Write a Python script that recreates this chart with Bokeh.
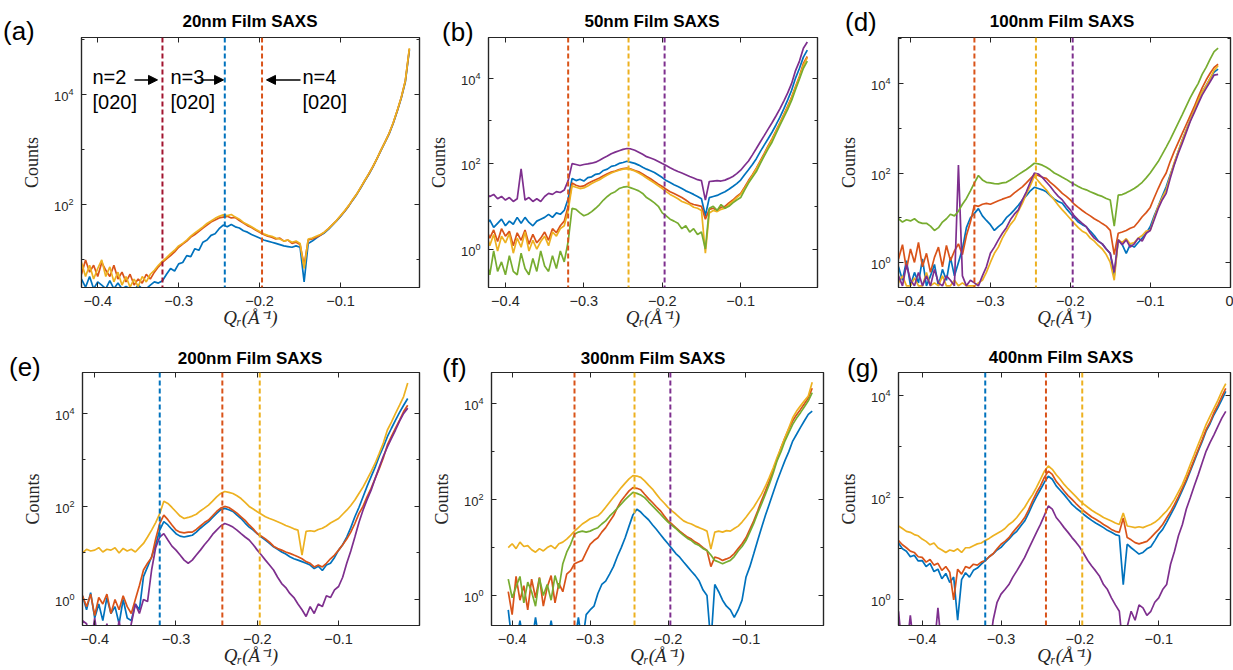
import numpy as np
from bokeh.plotting import figure
from bokeh.layouts import row, column
from bokeh.models import (Range1d, FixedTicker, LinearAxis, LogAxis, Span, Label,
                          Arrow, NormalHead, Div)
from bokeh.embed import file_html
from bokeh.resources import INLINE

nan = float("nan")

# ---------------- data (Q_r in 1/Angstrom, counts) -------------
qr = [-0.430, -0.425, -0.420, -0.415, -0.410, -0.405, -0.400, -0.395, -0.390, -0.385,
      -0.380, -0.375, -0.370, -0.365, -0.360, -0.355, -0.350, -0.345, -0.340, -0.335,
      -0.330, -0.325, -0.320, -0.315, -0.310, -0.305, -0.300, -0.295, -0.290, -0.285,
      -0.280, -0.275, -0.270, -0.265, -0.260, -0.255, -0.250, -0.245, -0.240, -0.235,
      -0.230, -0.225, -0.220, -0.215, -0.210, -0.205, -0.200, -0.195, -0.190, -0.185,
      -0.180, -0.175, -0.170, -0.165, -0.160, -0.155, -0.150, -0.145, -0.140, -0.135,
      -0.130, -0.125, -0.120, -0.115, -0.110, -0.105, -0.100, -0.095, -0.090, -0.085,
      -0.080, -0.075, -0.070, -0.065, -0.060, -0.055, -0.050, -0.045, -0.040, -0.035,
      -0.030, -0.025, -0.020, -0.015]

# (a) 20nm
a_blue = [4, 3, 4.5, 3.2, 5, 3, 4, 3.5, 3, 4.2,
          3, 3.8, 3, 3.3, 3, 2.8, 3.5, 3, 3, 3.5,
          4, 3.8, 4.2, 5.5, 7, 6.3, 8.5, 9, 12, 11.5,
          16, 15, 21, 23, 28, 30, 37, 43, 40, 44,
          40, 38, 34, 32, 29, 27, 25, 23, 22, 21,
          20, 19, 18, 17.5, 17, 18, 17, 4, 20, 22,
          25, 28, 31, 36, 43, 51, 62, 76, 95, 122,
          155, 205, 275, 360, 490, 690, 980, 1380, 1950, 3000,
          5000, 8700, 17000, 65000]
a_orange = [7, 9, 5.5, 10, 6, 8, 5, 9, 6.5, 5,
            8, 4.5, 6, 4, 5.5, 3.5, 4.5, 3.8, 5.5, 4.5,
            6, 7.5, 9, 10.5, 12, 14, 17, 19.5, 22, 26,
            29, 33, 38, 43, 49, 53, 58, 60, 62, 58,
            59, 52, 47, 42, 39, 35, 32, 29, 27, 26,
            24, 25, 22, 23, 20, 21, 19, 8, 23, 24,
            26, 28, 32, 37, 44, 52, 63, 77, 96, 124,
            157, 208, 278, 368, 498, 695, 995, 1390, 1990, 3080,
            5150, 8900, 18000, 68000]
a_yellow = [8, 6, 9, 5, 8, 4.5, 7, 10, 5, 7.5,
            4, 6, 3.5, 5, 3.2, 4.5, 3.3, 5, 4, 5.5,
            6.5, 8, 9.5, 11, 13, 15, 18, 20, 23, 27,
            31, 35, 40, 46, 51, 57, 62, 66, 64, 67,
            60, 55, 48, 44, 40, 36, 33, 30, 28, 27,
            25, 24, 22, 23, 21, 22, 20, 7, 24, 25,
            27, 29, 32, 37, 44, 52, 64, 78, 97, 125,
            158, 210, 280, 370, 500, 700, 1000, 1400, 2000, 3100,
            5200, 9000, 18000, 70000]

# (b) 50nm
b_blue = [4.5, 3.5, 4.8, 3.2, 4, 5, 3.5, 4.5, 3.8, 5.5,
          4, 5.5, 4.2, 3.5, 4.5, 5, 5.5, 6.5, 5.5, 7,
          6.5, 8, 15, 45, 40, 43, 39, 47, 49, 56,
          58, 69, 74, 86, 90, 101, 106, 113, 107, 101,
          92, 82, 74, 68, 62, 54, 47, 40, 36, 32,
          29, 26, 23, 21, 19, 17, 15, 6, 16, 17,
          18, 20, 22, 25, 29, 34, 41, 55, 72, 95,
          130, 190, 270, 380, 540, 800, 1200, 1900, 3100, 5200,
          10000, 17000, 31000, 45000]
b_orange = [2.5, 3.2, 1.8, 2.8, 1.5, 3, 2, 2.6, 1.2, 2.4,
            1.6, 2.8, 1.3, 2.2, 1.4, 1.8, 2.5, 1.6, 3, 2.4,
            3.5, 4.5, 10, 35, 31, 29, 30, 34, 38, 42,
            46, 52, 58, 63, 67, 72, 76, 78, 74, 69,
            64, 57, 50, 44, 38, 33, 29, 25, 22, 20,
            18, 16, 14, 12, 11, 10.5, 10, 5, 8.5, 9,
            8, 9.5, 10, 12, 14, 17, 20, 28, 40, 55,
            78, 115, 170, 260, 380, 580, 900, 1400, 2200, 3600,
            6300, 11000, 22000, 32000]
b_yellow = [1.8, 2.5, 1.2, 2.2, 0.9, 2, 1.4, 2.3, 0.8, 1.8,
            1.1, 2.5, 0.9, 1.6, 1, 1.5, 2, 1.2, 2.5, 2,
            3, 3.5, 8, 30, 28, 26, 27, 30, 34, 38,
            42, 48, 54, 60, 65, 70, 74, 76, 72, 67,
            60, 53, 46, 40, 35, 30, 26, 22, 19, 17,
            15, 13, 12, 11, 9.5, 9, 8, 0.8, 7, 8,
            7.5, 8.5, 9, 11, 13, 16, 19, 26, 37, 52,
            75, 110, 160, 245, 360, 560, 860, 1350, 2100, 3400,
            6000, 10500, 20000, 30000]
b_purple = [18, 20, 17, 19, 15, 17, 14, 16, 13, 15,
            75, 14, 16, 13, 15, 13, 17, 20, 19, 22,
            21, 24, 40, 100, 95, 90, 95, 98, 102, 108,
            120, 135, 150, 170, 185, 200, 215, 225, 220, 205,
            185, 165, 145, 135, 125, 112, 100, 90, 80, 72,
            65, 60, 55, 50, 46, 42, 40, 14, 38, 39,
            40, 39, 41, 45, 50, 58, 70, 90, 115, 160,
            225, 320, 450, 640, 900, 1300, 1900, 2900, 4500, 7500,
            15000, 25000, 50000, 70000]
b_green = [0.3, 0.6, 0.25, 0.9, 0.3, 0.5, 0.25, 0.7, 0.3, 0.25,
           0.8, 0.35, 0.25, 0.6, 0.3, 0.9, 0.4, 0.3, 0.7, 0.35,
           0.9, 0.5, 1.5, 9, 8.5, 7, 6, 6.5, 7.5, 9,
           11, 14, 17, 20, 22, 26, 28, 29, 27, 25,
           23, 20, 16, 14, 12, 10, 7, 6, 5, 4.5,
           4, 3, 3.5, 2.5, 3, 2.2, 2.5, 1, 9, 10,
           8, 11, 9, 10, 12, 14, 16, 24, 35, 48,
           65, 100, 150, 220, 316, 500, 780, 1200, 1850, 3000,
           5400, 9500, 17000, 25000]

# (d) 100nm
d_blue = [0.5, 1.2, 0.3, 0.8, 0.4, 1.1, 0.3, 0.6, 0.35, 1.2,
          0.3, 0.5, 0.9, 0.3, 0.7, 0.4, 1.3, 0.5, 1, 2,
          6, 10, 12.5, 16, 11, 8.7, 7, 5.2, 6.3, 7.5,
          10, 12, 15, 19, 25, 31, 40, 48, 45, 42,
          38, 31, 26, 23, 21, 16, 12.6, 10, 8, 7,
          6.3, 5, 4, 3, 2.6, 2, 1.6, 0.5, 3.2, 2.5,
          1.6, 2.5, 2.2, 2.8, 3.5, 4.5, 6.3, 11, 18, 30,
          49, 90, 160, 300, 540, 900, 1500, 2500, 4200, 6500,
          9000, 13000, 18000, 21000]
d_orange = [3, 1.5, 3.5, 1.2, 2.5, 0.7, 2, 1, 2.8, 0.8,
            1.6, 0.6, 1.3, 2.2, 0.8, 2.4, 1.1, 1.8, 2.6, 1.5,
            4, 8, 19, 18, 20, 21, 20, 22, 24, 26,
            28, 30, 36, 42, 49, 60, 75, 92, 88, 80,
            76, 62, 52, 43, 35, 30, 25, 20, 17, 14.5,
            12.5, 11, 9.5, 8.5, 7.4, 6.5, 5.2, 1.5, 4.5, 4.8,
            5.2, 5.8, 6.3, 8, 10.5, 13, 17, 28, 45, 70,
            100, 180, 300, 480, 760, 1200, 1900, 3000, 5000, 8000,
            12000, 17000, 23000, 27000]
d_yellow = [0.3, 0.4, 0.3, 0.35, 0.5, 0.3, 0.3, 0.45, 0.3, 0.3,
            0.6, 0.3, 0.35, 0.3, 0.5, 0.3, 0.3, 0.4, 0.3, 0.35,
            0.3, 0.3, 0.3, 0.35, 0.4, 0.6, 1, 1.6, 2.2, 3.5,
            5, 7, 9, 14, 21, 34, 52, 85, 66, 52,
            42, 32, 25, 19, 15, 12, 9.5, 7.5, 6, 5,
            4.5, 3.5, 3, 2.4, 2, 1.5, 1, 0.4, 3.2, 2.8,
            3.4, 2.6, 2.8, 3.5, 4, 5, 5.2, 10, 18, 28,
            42, 85, 170, 300, 540, 900, 1500, 2500, 4200, 6500,
            9000, 13000, 20000, 25000]
d_purple = [0.35, 0.8, 0.3, 0.5, 0.3, 0.9, 0.4, 0.3, 0.6, 0.3,
            0.5, 0.3, 0.7, 0.35, 0.3, 0.5, 0.4, 0.3, 150, 0.5,
            0.3, 0.4, 0.35, 0.3, 0.5, 0.8, 1.6, 2.2, 3.2, 4.5,
            6, 9, 12, 15, 25, 38, 63, 100, 95, 80,
            63, 50, 38, 30, 25, 19, 15, 11, 9, 7.5,
            6.3, 4.5, 3.5, 3, 2.6, 2, 1.6, 0.6, 3.2, 2.5,
            3.2, 2.2, 2.6, 3.5, 3, 4.5, 5.2, 9, 16, 25,
            35, 75, 150, 270, 460, 800, 1400, 2200, 3500, 5500,
            7800, 11000, 15500, 16000]
d_green = [9, 8.5, 9, 9.5, 8, 9, 8.5, 9.5, 8, 7.5,
           7.5, 6.5, 5.2, 6, 8, 9.5, 12, 11, 14, 20,
           27, 40, 60, 88, 70, 62, 60, 58, 57, 60,
           62, 70, 80, 92, 105, 120, 140, 165, 160, 150,
           135, 118, 100, 90, 80, 72, 63, 56, 50, 45,
           42, 38, 35, 32, 30, 27, 25, 6.5, 32, 33,
           36, 40, 45, 52, 62, 78, 100, 135, 180, 260,
           380, 560, 850, 1300, 2000, 3100, 4800, 7000, 10000, 16000,
           23000, 35000, 52000, 62000]

# (e) 200nm
e_blue = [0.5, 0.9, 0.35, 1.2, 0.6, 1.4, 0.4, 0.8, 0.35, 1.1,
          0.5, 0.7, 0.3, 1, 0.4, 0.35, 0.8, 0.6, 3.1, 5,
          8.3, 15, 31, 47, 40, 32, 26, 23, 22, 23,
          24, 28, 34, 40, 47, 58, 71, 85, 91, 85,
          78, 65, 55, 44, 36, 31, 26, 22, 19, 16,
          13.5, 12, 10.5, 9.5, 8.3, 7.5, 7, 6.5, 6, 5.5,
          4.6, 5.2, 4.2, 5.5, 6, 8, 11.5, 15, 22, 35,
          60, 95, 160, 270, 436, 700, 1200, 1900, 3160, 4800,
          7200, 10500, 15000, 21000]
e_orange = [0.8, 1.4, 0.5, 1.2, 0.7, 1.3, 0.45, 1.1, 0.8, 1.3,
            0.5, 1, 0.6, 1.2, 0.7, 0.5, 1, 2, 4.3, 6,
            8, 20, 43, 65, 52, 40, 31, 28, 27, 28,
            28, 32, 38, 45, 51, 63, 78, 92, 100, 95,
            83, 72, 60, 50, 40, 33, 26, 23, 20, 17,
            14, 12.5, 11.5, 10.5, 9.8, 9, 8.3, 7.5, 6.5, 6,
            5, 5.5, 5, 6, 7.5, 9, 11.5, 15, 20, 28,
            43, 70, 100, 160, 245, 400, 650, 1100, 2100, 3200,
            4800, 7200, 11000, 15000]
e_yellow = [11, 10, 12, 10, 12, 11, 11.5, 13, 10.5, 12,
            11.5, 13, 10, 12.5, 11, 12, 10.5, 13, 16, 22,
            31, 45, 70, 130, 116, 95, 77, 62, 55, 58,
            62, 68, 80, 92, 107, 130, 160, 190, 210, 200,
            190, 170, 148, 122, 100, 88, 77, 68, 60, 55,
            51, 47, 43, 39, 36, 33, 31, 9, 29, 30,
            29, 32, 34, 38, 44, 49, 55, 68, 83, 105,
            138, 190, 260, 380, 560, 850, 1380, 2300, 4400, 6500,
            10000, 15000, 23000, 45000]
e_purple = [0.1, 0.4, 0.1, 0.35, 0.3, 0.1, 0.4, 0.1, 0.1, 0.3,
            0.1, 0.1, 0.35, 0.1, 0.1, 0.3, 0.8, 0.5, 1, 0.9,
            4.3, 13, 22, 26, 19, 14, 11.5, 9, 7, 6,
            7, 9, 11.5, 15, 19, 25, 31, 38, 43, 40,
            36, 31, 26, 22, 19, 15, 11.5, 9, 7, 5.5,
            4.3, 3, 2.2, 1.8, 1.35, 1.1, 0.8, 0.6, 0.43, 0.7,
            0.5, 0.8, 0.7, 1.2, 1.1, 1.6, 1.9, 3, 6, 11,
            22, 45, 83, 140, 224, 400, 700, 1200, 1900, 2900,
            4400, 6800, 10000, 13000]

# (f) 300nm
f_blue = [nan, nan, nan, nan, nan, 0.5, 0.1, 0.1, 0.3, 0.1,
          0.1, 0.1, 0.35, 0.1, 0.1, 0.1, 0.3, 0.1, 0.1, 0.1,
          0.1, 0.1, 0.1, 0.35, 0.1, 0.4, 0.5, 0.6, 1.1, 1.7,
          2, 2.8, 4, 6.5, 10, 16, 28, 48, 63, 55,
          45, 38, 30, 24, 19, 15, 12, 9.5, 7.5, 6.3,
          5, 4, 3.2, 2.6, 2, 1.3, 1, 0.1, 1.7, 1.2,
          0.8, 0.6, 0.5, 0.35, 0.5, 0.8, 2.4, 4, 7.4, 14,
          26, 47, 81, 140, 245, 400, 650, 1000, 1660, 2300,
          3200, 4400, 6000, 7000]
f_orange = [nan, nan, nan, nan, nan, 1.2, 0.4, 2.5, 0.8, 1.6,
            0.5, 2.2, 0.9, 2.4, 0.6, 1.5, 2.6, 0.7, 1.8, 1.2,
            2.8, 3.3, 4.6, 5, 5.4, 8, 11.7, 14, 16, 21,
            26, 35, 46, 68, 95, 120, 152, 178, 172, 160,
            129, 105, 87, 71, 59, 46, 36, 31, 26, 22,
            19, 16.5, 15, 13, 11.7, 10, 8.7, 4, 6.3, 6,
            5.4, 5.8, 6.3, 7.5, 9.5, 12, 16, 24, 36, 58,
            95, 150, 245, 420, 690, 1200, 1950, 3000, 4400, 5900,
            7600, 10000, 13200, 21000]
f_yellow = [nan, nan, nan, nan, nan, 10, 12, 9.5, 13, 10.5,
            11, 9, 8, 9.5, 8.5, 10, 11, 9.5, 12, 13,
            15, 18, 22, 26, 31, 35, 40, 43, 46, 55,
            69, 88, 112, 140, 178, 220, 270, 316, 310, 290,
            245, 200, 166, 130, 103, 85, 69, 58, 50, 42,
            36, 33, 31, 28, 26, 24, 22, 9.3, 21, 22,
            21, 22.5, 22, 25, 28, 34, 43, 55, 70, 95,
            130, 190, 290, 460, 760, 1200, 1950, 3100, 5100, 7000,
            9000, 11500, 14500, 28000]
f_green = [nan, nan, nan, nan, nan, 2.2, 0.9, 1.5, 2.5, 0.7,
           1.9, 1.2, 0.6, 2.3, 1, 1.7, 0.8, 2.6, 1.4, 4.6,
           8, 11.7, 19, 21, 22, 21, 22, 24, 26, 31,
           36, 45, 54, 66, 81, 100, 120, 141, 135, 125,
           110, 90, 74, 61, 50, 41, 34, 29, 25, 21,
           18, 15.5, 14, 12, 11, 9.5, 8.7, 7, 5.4, 5,
           4.6, 5, 5.4, 6.5, 8.5, 10.5, 14, 21, 32, 52,
           81, 130, 210, 360, 650, 1000, 1660, 2500, 3700, 5000,
           6500, 8600, 11500, 17000]

# (g) 400nm
g_blue = [13, 10, 9, 7, 7.5, 5.8, 5.9, 4.5, 5.2, 3.6,
          4, 2.6, 3.3, 2.2, 2.8, 0.4, 2.5, 3.4, 2.8, 3.8,
          4.2, 5, 5.9, 7, 8, 9.5, 10.7, 13, 15.5, 19,
          22, 28, 35, 50, 74, 105, 145, 200, 263, 230,
          170, 140, 115, 92, 74, 63, 55, 47, 41, 36,
          32, 29, 26, 23, 21, 19, 18, 2, 12.3, 10.5,
          9.1, 7.9, 8.5, 10, 11, 14.5, 19.5, 24, 33, 46,
          65, 95, 140, 210, 330, 520, 810, 1250, 2000, 2800,
          4200, 5800, 8300, 12000]
g_orange = [14.5, 12, 10.5, 9, 8.5, 7, 6.8, 5.5, 6.2, 4.8,
            5.2, 3.8, 4.5, 3.5, 1, 4, 3.2, 4.5, 4.2, 5,
            4.8, 5.5, 5.9, 7, 8, 10, 12.3, 14, 16.5, 21,
            26, 32, 41, 58, 87, 125, 170, 250, 331, 285,
            209, 170, 135, 110, 93, 77, 65, 55, 48, 42,
            38, 34, 30, 27, 24, 22, 21, 40, 16.6, 15,
            13.2, 12.5, 13.2, 14, 16.6, 20, 24, 30, 40, 53,
            74, 105, 155, 230, 355, 560, 870, 1350, 2140, 3000,
            4600, 6500, 9500, 13800]
g_yellow = [28, 25, 22, 21, 19, 18, 15.5, 14, 12, 13,
            10.5, 9.5, 8.5, 9.5, 9, 10, 8.5, 10.5, 10.5, 11.5,
            12.5, 13, 14.5, 16, 18, 20, 22, 25, 30, 34,
            41, 52, 65, 88, 115, 160, 229, 330, 417, 360,
            282, 230, 182, 150, 126, 105, 87, 75, 65, 57,
            51, 46, 41, 38, 35, 32, 30, 50, 28, 27,
            26, 27, 26, 28, 30, 33, 38, 46, 55, 70,
            93, 130, 182, 280, 447, 700, 1100, 1700, 2700, 3900,
            5600, 8000, 12000, 17000]
g_purple = [0.6, 0.1, 0.1, 0.5, 0.1, 0.1, 0.1, 0.1, 0.1, 0.1,
            0.7, 0.1, 0.1, 0.1, 0.1, 0.1, 0.1, 0.1, 0.1, 0.1,
            0.1, 0.1, 0.1, 0.1, 0.4, 0.9, 1.3, 1.6, 2, 2.8,
            3.7, 5, 6.8, 10, 14.5, 21, 30, 45, 69, 60,
            41, 33, 26, 21, 16.6, 13.5, 10.7, 8, 5.9, 4.6,
            3.7, 2.9, 2, 1.6, 1.1, 0.8, 0.6, 0.1, 0.3, 0.6,
            0.4, 0.8, 0.7, 0.5, 0.6, 0.9, 1.1, 1.6, 2, 5,
            9, 18, 30, 60, 100, 170, 280, 480, 810, 1200,
            1700, 2500, 3600, 4900]

# guide lines (dashed) at these Q_r values
guide_q = [-0.320, -0.243, -0.197]

x_tick_values = [-0.4, -0.3, -0.2, -0.1, 0.0]
y_major_ticks = [0.01, 1, 100, 10000]
y_minor_ticks = [0.1, 10, 1000, 100000]

panel_titles = ["20nm Film SAXS", "50nm Film SAXS", "100nm Film SAXS",
                "200nm Film SAXS", "300nm Film SAXS", "400nm Film SAXS"]
panel_letters = ["(a)", "(b)", "(d)", "(e)", "(f)", "(g)"]

# ---------------- styling ----------------
BLUE, ORANGE, YELLOW = "#0072BD", "#D95319", "#EDB120"
PURPLE, GREEN, CRIMSON = "#7E2F8E", "#77AC30", "#A2142F"
INK = "#262626"

panels = [
    dict(curves=[(a_blue, BLUE), (a_orange, ORANGE), (a_yellow, YELLOW)],
         guides=[CRIMSON, BLUE, ORANGE], xr=(-0.42, -0.0025), yr=(10**0.5, 10**5.04),
         w=425, h=333, bl=81, br=6, bt=33, bb=46, letter_pos=(3, 18), title_pos=(250, 21.5)),
    dict(curves=[(b_blue, BLUE), (b_orange, ORANGE), (b_yellow, YELLOW), (b_purple, PURPLE), (b_green, GREEN)],
         guides=[ORANGE, YELLOW, PURPLE], xr=(-0.4216, -0.002), yr=(10**-0.9, 10**4.95),
         w=410, h=333, bl=62, br=18, bt=34, bb=46, letter_pos=(442, 19), title_pos=(652, 21.7)),
    dict(curves=[(d_blue, BLUE), (d_orange, ORANGE), (d_yellow, YELLOW), (d_purple, PURPLE), (d_green, GREEN)],
         guides=[ORANGE, YELLOW, PURPLE], xr=(-0.415, 0.0005), yr=(10**-0.56, 10**5.03),
         w=398, h=333, bl=58, br=3, bt=37, bb=46, letter_pos=(845, 9), title_pos=(1062, 21.7)),
    dict(curves=[(e_blue, BLUE), (e_orange, ORANGE), (e_yellow, YELLOW), (e_purple, PURPLE)],
         guides=[BLUE, ORANGE, YELLOW], xr=(-0.415, -0.0005), yr=(10**-0.56, 10**4.88),
         w=428, h=337, bl=82, br=9, bt=39, bb=45, letter_pos=(9, 354), title_pos=(250, 359)),
    dict(curves=[(f_blue, BLUE), (f_orange, ORANGE), (f_yellow, YELLOW), (f_green, GREEN)],
         guides=[ORANGE, YELLOW, PURPLE], xr=(-0.4265, -0.0005), yr=(10**-0.625, 10**4.65),
         w=407, h=337, bl=56, br=12, bt=39, bb=45, letter_pos=(442, 355), title_pos=(653, 359)),
    dict(curves=[(g_blue, BLUE), (g_orange, ORANGE), (g_yellow, YELLOW), (g_purple, PURPLE)],
         guides=[BLUE, ORANGE, YELLOW], xr=(-0.43, -0.009), yr=(10**-0.5, 10**4.45),
         w=398, h=337, bl=58, br=3, bt=38, bb=45, letter_pos=(847, 355), title_pos=(1061, 358)),
]


def style_axis(ax, labels=True):
    ax.axis_line_color = INK
    ax.axis_line_width = 1.2
    ax.major_tick_line_color = INK
    ax.minor_tick_line_color = INK
    ax.major_tick_in = 5
    ax.major_tick_out = 0
    ax.minor_tick_in = 3
    ax.minor_tick_out = 0
    if labels:
        ax.major_label_text_font = "Liberation Sans"
        ax.major_label_text_font_size = "14.5px"
        ax.major_label_text_color = INK
    else:
        ax.major_label_text_font_size = "1px"
        ax.major_label_text_alpha = 0
        ax.major_label_standoff = 0


def make_panel(i, cfg):
    p = figure(width=cfg["w"], height=cfg["h"], title=None,
               x_range=Range1d(*cfg["xr"]), y_range=Range1d(*cfg["yr"]),
               y_axis_type="log", output_backend="svg", toolbar_location=None,
               min_border_left=cfg["bl"], min_border_right=cfg["br"],
               min_border_top=cfg["bt"], min_border_bottom=cfg["bb"])
    p.grid.visible = False
    p.outline_line_color = INK
    p.outline_line_width = 1.2

    x = np.array(qr, dtype=float)
    for vals, col in cfg["curves"]:
        y = np.array(vals, dtype=float)
        if len(y) != len(x):
            raise ValueError(f"panel {i}: {len(y)} values vs {len(x)}")
        p.line(x, y, line_color=col, line_width=1.7)

    for q, col in zip(guide_q, cfg["guides"]):
        p.add_layout(Span(location=q, dimension="height", line_color=col,
                          line_width=2, line_dash="5 3"))

    xa = p.below[0]
    xa.ticker = FixedTicker(ticks=x_tick_values)
    style_axis(xa)
    xa.major_label_standoff = 8
    xa.axis_label = "Qᵣ(Å⁻¹)"
    xa.axis_label_text_font = "Liberation Serif"
    xa.axis_label_text_font_style = "italic"
    xa.axis_label_text_font_size = "19px"
    xa.axis_label_text_color = INK
    xa.axis_label_standoff = -2

    ya = p.left[0]
    ya.ticker = FixedTicker(ticks=y_major_ticks, minor_ticks=y_minor_ticks)
    style_axis(ya)
    ya.major_label_text_font_size = "13px"
    ya.major_label_standoff = 8
    ya.axis_label = "Counts"
    ya.axis_label_text_font = "Liberation Serif"
    ya.axis_label_text_font_style = "normal"
    ya.axis_label_text_font_size = "18px"
    ya.axis_label_text_color = INK
    ya.axis_label_standoff = 9

    top = LinearAxis(ticker=FixedTicker(ticks=x_tick_values))
    style_axis(top, labels=False)
    p.add_layout(top, "above")
    right = LogAxis(ticker=FixedTicker(ticks=y_major_ticks, minor_ticks=y_minor_ticks))
    style_axis(right, labels=False)
    p.add_layout(right, "right")
    return p


figs = [make_panel(i, cfg) for i, cfg in enumerate(panels)]

# annotations of panel (a)
pa = figs[0]
ann_texts = [("n=2", 11, 211), ("[020]", 11, 186), ("n=3", 89, 211), ("[020]", 89, 186),
             ("n=4", 221, 211), ("[020]", 221, 186)]
for t, tx, ty in ann_texts:
    pa.add_layout(Label(x=tx, y=ty, x_units="screen", y_units="screen", text=t,
                        text_align="left", text_baseline="middle",
                        text_font="Liberation Sans", text_font_size="20px",
                        text_color="black"))
arrow_y = 10 ** 4.27
for xs, xe in [(-0.3545, -0.3261), (-0.273, -0.2445), (-0.1495, -0.1915)]:
    pa.add_layout(Arrow(x_start=xs, y_start=arrow_y, x_end=xe, y_end=arrow_y,
                        line_color="black", line_width=1.5,
                        end=NormalHead(size=9, fill_color="black", line_color="black")))


def overlay_text(text, left, top, width, height, font_size, bold=False, align="left"):
    css = (f":host {{ position: absolute !important; left: {left}px !important; "
           f"top: {top}px !important; z-index: 5; }}")
    return Div(text=text, width=width, height=height,
               styles={"position": "absolute", "left": f"{left}px", "top": f"{top}px",
                       "font-family": "Liberation Sans", "font-size": f"{font_size}px",
                       "font-weight": "bold" if bold else "normal",
                       "line-height": f"{height}px", "text-align": align,
                       "color": "black", "margin": "0", "padding": "0",
                       "white-space": "nowrap"},
               stylesheets=[css])


overlays = []
for i, cfg in enumerate(panels):
    lx, ly = cfg["letter_pos"]
    overlays.append(overlay_text(panel_letters[i], lx, ly, 44, 26, 26))
    tx, ty = cfg["title_pos"]
    overlays.append(overlay_text(panel_titles[i], tx - 110, ty - 10, 220, 20, 17,
                                 bold=True, align="center"))

layout = column(row(figs[0], figs[1], figs[2]), row(figs[3], figs[4], figs[5]), *overlays)
open("out.html", "w").write(file_html(layout, INLINE))
